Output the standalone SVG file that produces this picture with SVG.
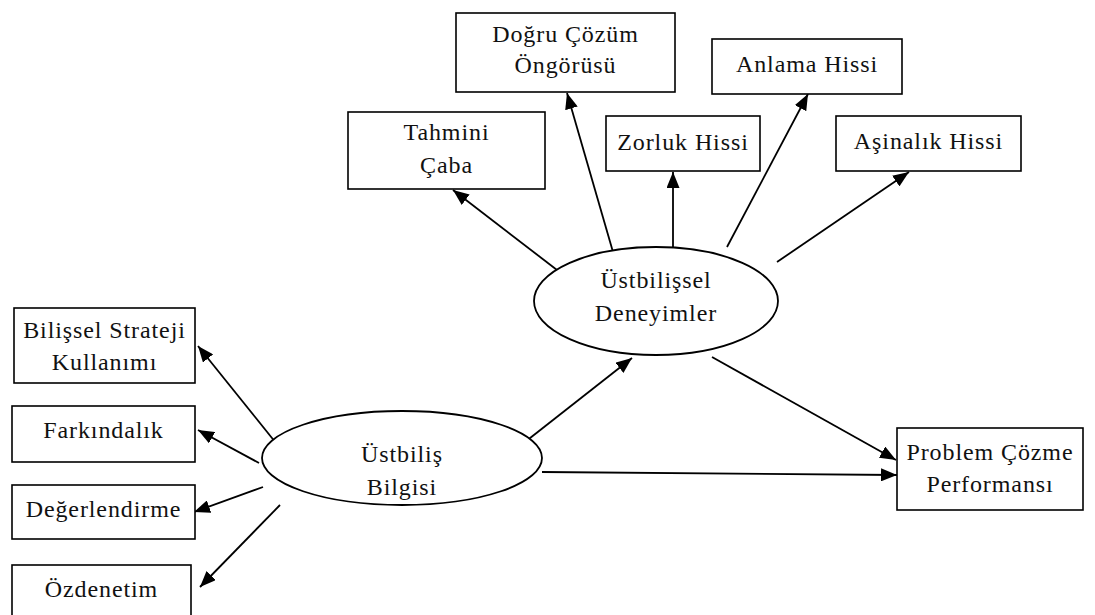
<svg xmlns="http://www.w3.org/2000/svg" width="1095" height="615" viewBox="0 0 1095 615">
<defs>
<style>
.box{fill:#fff;stroke:#000;stroke-width:1.6}
.ell{fill:#fff;stroke:#000;stroke-width:1.8}
.t{font-family:"Liberation Serif","Times New Roman",serif;font-size:24px;letter-spacing:0.9px;fill:#111;text-anchor:middle}
.c{stroke:#000;stroke-width:1.8;fill:none;marker-end:url(#ah)}
</style>
<marker id="ah" viewBox="0 0 16 13" refX="16" refY="6.5" markerWidth="16" markerHeight="13" markerUnits="userSpaceOnUse" orient="auto">
<path d="M0,0 L16,6.5 L0,13 z" fill="#000"/>
</marker>
</defs>
<rect width="1095" height="615" fill="#fff"/>
<g id="connectors">
<line class="c" x1="557" y1="270" x2="453" y2="190"/>
<line class="c" x1="613" y1="252" x2="567" y2="93"/>
<line class="c" x1="673" y1="247" x2="673" y2="172"/>
<line class="c" x1="727" y1="247" x2="808" y2="94"/>
<line class="c" x1="777" y1="262" x2="909" y2="172"/>
<line class="c" x1="712" y1="357" x2="896" y2="460"/>
<line class="c" x1="525" y1="442" x2="632" y2="358"/>
<line class="c" x1="542" y1="472" x2="897" y2="475"/>
<line class="c" x1="280" y1="448" x2="198" y2="346"/>
<line class="c" x1="259" y1="463" x2="198" y2="430"/>
<line class="c" x1="263" y1="487" x2="194" y2="512"/>
<line class="c" x1="280" y1="505" x2="200" y2="587"/>
</g>
<g id="dogru-cozum">
<rect class="box" x="456" y="13" width="219" height="79"/>
<text class="t" x="565.5" y="42">Doğru Çözüm</text>
<text class="t" x="565.5" y="73">Öngörüsü</text>
</g>
<g id="tahmini-caba">
<rect class="box" x="348" y="112" width="197" height="77"/>
<text class="t" x="446.5" y="140">Tahmini</text>
<text class="t" x="446.5" y="173">Çaba</text>
</g>
<g id="zorluk-hissi">
<rect class="box" x="606" y="116" width="154" height="55"/>
<text class="t" x="683" y="150">Zorluk Hissi</text>
</g>
<g id="anlama-hissi">
<rect class="box" x="712" y="39" width="190" height="55"/>
<text class="t" x="807" y="72">Anlama Hissi</text>
</g>
<g id="asinalik-hissi">
<rect class="box" x="836" y="116" width="185" height="55"/>
<text class="t" x="928.5" y="149">Aşinalık Hissi</text>
</g>
<g id="ustbilissel-deneyimler">
<ellipse class="ell" cx="656" cy="301" rx="122" ry="54"/>
<text class="t" x="656" y="288">Üstbilişsel</text>
<text class="t" x="656" y="321">Deneyimler</text>
</g>
<g id="ustbilis-bilgisi">
<ellipse class="ell" cx="402" cy="458" rx="140" ry="47"/>
<text class="t" x="402" y="462">Üstbiliş</text>
<text class="t" x="402" y="495">Bilgisi</text>
</g>
<g id="bilissel-strateji">
<rect class="box" x="14" y="308" width="181" height="75"/>
<text class="t" x="104.5" y="338">Bilişsel Strateji</text>
<text class="t" x="104.5" y="370">Kullanımı</text>
</g>
<g id="farkindalik">
<rect class="box" x="12" y="406" width="183" height="56"/>
<text class="t" x="103.5" y="438">Farkındalık</text>
</g>
<g id="degerlendirme">
<rect class="box" x="12" y="485" width="183" height="54"/>
<text class="t" x="103.5" y="517">Değerlendirme</text>
</g>
<g id="ozdenetim">
<rect class="box" x="12" y="565" width="179" height="55"/>
<text class="t" x="101.5" y="597">Özdenetim</text>
</g>
<g id="problem-cozme">
<rect class="box" x="897" y="428" width="186" height="82"/>
<text class="t" x="990" y="460">Problem Çözme</text>
<text class="t" x="990" y="492">Performansı</text>
</g>
</svg>
